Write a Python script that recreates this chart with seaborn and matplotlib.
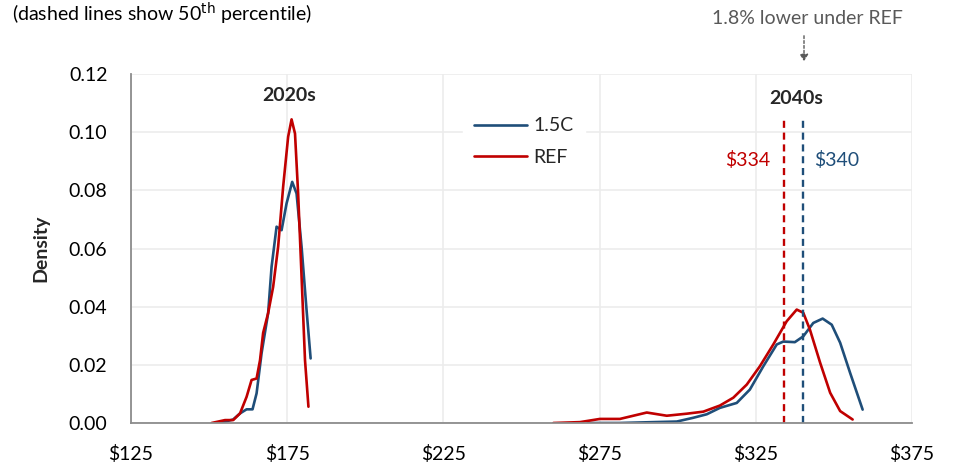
import matplotlib
matplotlib.use("Agg")
import matplotlib.pyplot as plt
import seaborn as sns
import pandas as pd
from matplotlib.lines import Line2D

# values
blue_2020_x = [153.5, 157.7, 159.9, 162.0, 163.9, 165.2, 166.8, 168.9, 170.0, 171.6, 173.2,
               174.8, 176.6, 178.0, 179.6, 181.2, 182.5]
blue_2020_y = [0.0, 0.0012, 0.0033, 0.0047, 0.0047, 0.0102, 0.024, 0.0378, 0.0537, 0.0675, 0.0663,
               0.0755, 0.0829, 0.0789, 0.0606, 0.0388, 0.0222]
red_2020_x = [150.8, 155.1, 157.7, 159.9, 162.0, 163.6, 165.2, 166.3, 167.3, 168.9, 170.5,
              172.1, 173.7, 175.3, 176.4, 177.5, 178.5, 179.6, 180.7, 181.8]
red_2020_y = [0.0, 0.001, 0.001, 0.0033, 0.009, 0.0148, 0.0153, 0.0216, 0.031, 0.0378, 0.0468,
              0.0606, 0.0812, 0.0984, 0.1044, 0.0995, 0.0789, 0.0503, 0.0216, 0.0056]
blue_2040_x = [271.2, 281.5, 292.2, 299.7, 305.0, 309.3, 313.5, 318.9, 323.1, 327.4, 331.7,
               333.8, 337.5, 340.2, 343.4, 346.4, 349.3, 352.0, 355.2, 359.2]
blue_2040_y = [0.0, 0.0, 0.0003, 0.0005, 0.0018, 0.003, 0.0052, 0.0069, 0.0115, 0.0195, 0.027,
               0.028, 0.0278, 0.0298, 0.0344, 0.0359, 0.0338, 0.0276, 0.0172, 0.0046]
red_2040_x = [260.2, 268.7, 275.1, 281.5, 285.8, 290.1, 296.5, 302.9, 308.2, 313.5, 317.8,
              322.1, 326.3, 330.6, 334.9, 338.1, 340.2, 342.3, 345.6, 348.8, 352.0, 356.0]
red_2040_y = [0.0, 0.0003, 0.0014, 0.0014, 0.0025, 0.0036, 0.0025, 0.0032, 0.0039, 0.006, 0.0087,
              0.0132, 0.0195, 0.027, 0.035, 0.039, 0.0379, 0.0322, 0.0207, 0.0104, 0.0041, 0.0012]

median_ref = 334
median_15c = 340
x_ticks = [125, 175, 225, 275, 325, 375]
y_ticks = [0.00, 0.02, 0.04, 0.06, 0.08, 0.10, 0.12]

BLUE = "#1F4E79"
RED = "#C00000"

frames = []
for scen, period, xs, ys in [("1.5C", "2020s", blue_2020_x, blue_2020_y),
                             ("REF", "2020s", red_2020_x, red_2020_y),
                             ("1.5C", "2040s", blue_2040_x, blue_2040_y),
                             ("REF", "2040s", red_2040_x, red_2040_y)]:
    frames.append(pd.DataFrame({"x": xs, "y": ys, "scenario": scen, "period": period}))
df = pd.concat(frames, ignore_index=True)

sns.set_theme(style="white")
plt.rcParams["font.family"] = ["Lato", "DejaVu Sans"]

FS = 14

fig = plt.figure(figsize=(9.69, 4.68), dpi=100)
ax = fig.add_axes([131 / 969, 45 / 468, 781 / 969, 349 / 468])

sns.lineplot(data=df, x="x", y="y", hue="scenario", units="period", estimator=None,
             palette={"1.5C": BLUE, "REF": RED}, linewidth=1.9, sort=False,
             legend=False, ax=ax)

# median lines
ax.plot([median_ref, median_ref], [0, 0.105], color=RED, lw=1.7, ls=(0, (3, 2)))
ax.plot([median_15c, median_15c], [0, 0.105], color=BLUE, lw=1.7, ls=(0, (3, 2)))
ax.text(median_ref - 4.4, 0.0905, f"${median_ref}", color=RED, fontsize=FS,
        ha="right", va="center")
ax.text(median_15c + 3.6, 0.0905, f"${median_15c}", color=BLUE, fontsize=FS,
        ha="left", va="center")

ax.text(175.5, 0.1125, "2020s", fontsize=FS, fontweight="bold", ha="center", va="center")
ax.text(338, 0.1115, "2040s", fontsize=FS, fontweight="bold", ha="center", va="center")

ax.set_xlim(125, 375)
ax.set_ylim(0, 0.12)
ax.set_xticks(x_ticks)
ax.set_xticklabels([f"${t}" for t in x_ticks])
ax.set_yticks(y_ticks)
ax.set_yticklabels([f"{t:.2f}" for t in y_ticks])
ax.tick_params(axis="both", labelsize=FS, colors="black", length=0)
ax.tick_params(axis="x", pad=16)
ax.tick_params(axis="y", pad=17)
ax.grid(True, color="#ececec", lw=1.2)
ax.set_axisbelow(True)
for s in ["top", "right"]:
    ax.spines[s].set_visible(False)
for s in ["left", "bottom"]:
    ax.spines[s].set_color("#8c8c8c")
    ax.spines[s].set_linewidth(1.3)
ax.set_xlabel("")
ax.set_ylabel("Density", fontsize=FS, fontweight="bold", labelpad=14)

handles = [Line2D([0], [0], color=BLUE, lw=1.9), Line2D([0], [0], color=RED, lw=1.9)]
leg = ax.legend(handles, ["1.5C", "REF"], loc="upper left",
                bbox_to_anchor=((453 - 131) / 781, (423 - 96) / 349),
                frameon=True, fontsize=FS, handlelength=2.7, handletextpad=0.35,
                labelspacing=0.75, borderpad=0.6)
leg.get_frame().set_facecolor("white")
leg.get_frame().set_edgecolor("white")
leg.get_frame().set_alpha(1)

# annotation above the 2040s medians
fig.text(807 / 969, 1 - 18 / 468, "1.8% lower under REF", color="#595959",
         fontsize=FS, ha="center", va="center")
fig.add_artist(matplotlib.patches.FancyArrowPatch(
    (804 / 969, 1 - 33 / 468), (804 / 969, 1 - 64 / 468), transform=fig.transFigure,
    arrowstyle="-|>,head_length=4,head_width=2.5", color="#595959", lw=1.0,
    linestyle=(0, (2, 1.5))))

fig.text(12 / 969, 1 - 1 / 468, "(dashed lines show 50$^{\\mathrm{th}}$ percentile)",
         fontsize=FS, ha="left", va="top", color="black")

fig.savefig("out.png", dpi=100)
